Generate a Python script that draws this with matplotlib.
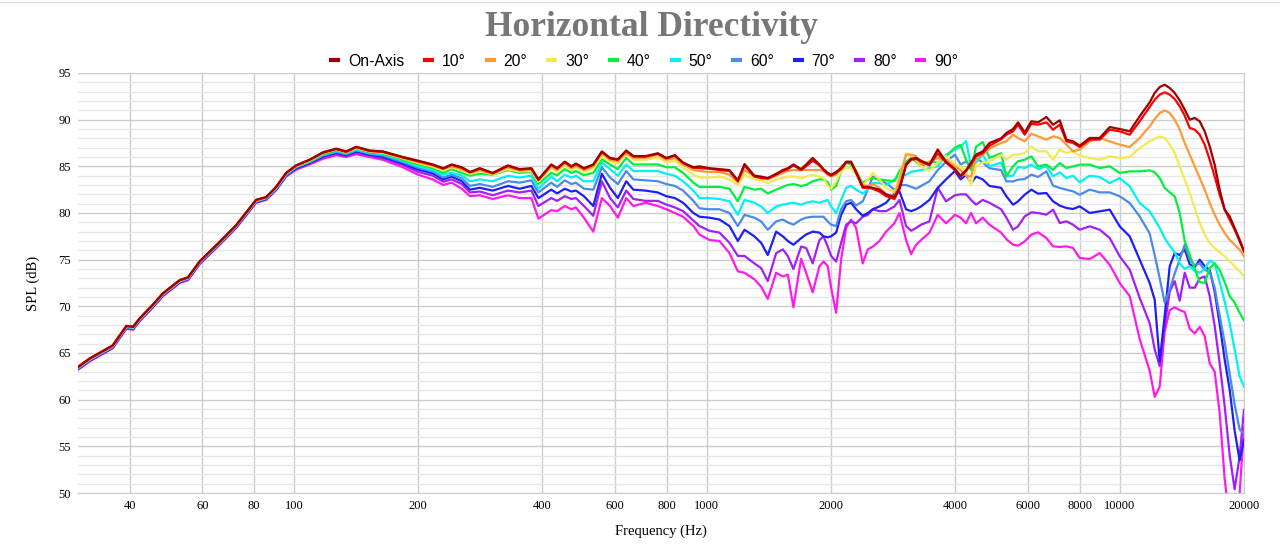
import matplotlib
matplotlib.use("Agg")
import matplotlib.pyplot as plt
from matplotlib.lines import Line2D
from matplotlib.ticker import NullLocator

# frequency points (Hz)
freq = [30, 32, 33.8, 36.4, 39.3, 40.8, 42.3, 45.6, 48.2, 52.9,
        55.4, 59.1, 66.1, 72.5, 81, 85.7, 90.6, 95.8, 101.3, 109.1,
        117.5, 126.6, 133.8, 141.6, 152.5, 164.3, 183.6,
        200, 217, 230, 241, 255, 267, 282, 303, 330, 352,
        376, 391, 420, 434, 453, 470, 482, 504, 531, 557,
        583, 609, 638, 664, 711, 761, 798, 837, 876, 928,
        960, 1015, 1073, 1135, 1189, 1234, 1304, 1354, 1405, 1472,
        1528, 1571, 1621, 1692, 1740, 1805, 1874, 1917, 1963, 2000,
        2057, 2115, 2175, 2236, 2299, 2386, 2454, 2523, 2619, 2718,
        2847, 2928, 3038, 3125, 3213, 3304, 3461, 3625, 3797, 3990,
        4118, 4246, 4365, 4488, 4659, 4836, 5161,
        5316, 5517, 5673, 5888, 6110, 6343, 6644, 6897, 7158, 7429,
        7709, 8000, 8461, 8946, 9458, 10000, 10573, 11178,
        11819, 12154, 12499, 12852, 13217, 13590, 13974, 14370, 14776, 15194,
        15623, 16065, 16518, 16982, 17462, 17957, 18460, 18981, 19518, 20000]

on_axis = [63.5, 64.4, 65.0, 65.8, 67.9, 67.8, 68.7, 70.2, 71.4, 72.8,
           73.1, 74.8, 76.9, 78.7, 81.4, 81.7, 82.8, 84.3, 85.1, 85.7,
           86.5, 86.9, 86.6, 87.1, 86.7, 86.6, 86.0,
           85.6, 85.2, 84.8, 85.2, 84.9, 84.4, 84.8, 84.3, 85.1, 84.7,
           84.8, 83.6, 85.2, 84.8, 85.5, 85.0, 85.3, 84.8, 85.2, 86.6,
           85.9, 85.75, 86.7, 86.1, 86.1, 86.4, 85.9, 86.2, 85.4, 84.9,
           85.0, 84.8, 84.7, 84.6, 83.5, 85.25, 84.0, 83.9, 83.75, 84.2,
           84.6, 84.8, 85.2, 84.7, 85.2, 85.9, 85.2, 84.7, 84.3, 84.1,
           84.4, 84.8, 85.5, 85.5, 84.4, 82.8, 82.8, 82.7, 82.5, 82.0,
           81.7, 82.7, 85.2, 85.8, 85.9, 85.6, 85.2, 86.8, 85.5, 84.7,
           84.0, 84.6, 85.4, 86.25, 86.6, 87.5, 88.0,
           88.57, 89.0, 89.71, 88.64, 89.82, 89.71, 90.29, 89.46, 89.93, 87.86,
           87.68, 87.21, 88.04, 88.04, 89.21, 89.0, 88.75, 90.36,
           91.86, 92.86, 93.5, 93.75, 93.39, 92.86, 92.07, 91.07, 90.0, 90.18,
           89.82, 88.75, 87.14, 85.18, 82.5, 80.36, 79.64, 78.39, 77.14, 75.89]

deg10 = [63.5, 64.4, 65.0, 65.8, 67.9, 67.8, 68.7, 70.2, 71.4, 72.8,
         73.1, 74.8, 76.9, 78.7, 81.4, 81.7, 82.8, 84.3, 85.1, 85.7,
         86.45, 86.85, 86.55, 87.05, 86.65, 86.55, 85.95,
         85.55, 85.15, 84.75, 85.15, 84.85, 84.35, 84.75, 84.25, 85.05, 84.65,
         84.75, 83.55, 85.15, 84.75, 85.45, 84.95, 85.25, 84.75, 85.15, 86.55,
         85.85, 85.7, 86.65, 86.05, 86.05, 86.35, 85.85, 86.15, 85.35, 84.85,
         84.8, 84.75, 84.6, 84.5, 83.4, 85.1, 83.9, 83.75, 83.7, 84.1,
         84.5, 84.7, 85.1, 84.6, 85.0, 85.6, 85.1, 84.6, 84.2, 84.0,
         84.3, 84.7, 85.4, 85.4, 84.3, 82.7, 82.7, 82.6, 82.3, 81.8,
         81.5, 82.5, 85.1, 85.7, 85.8, 85.5, 85.1, 86.4, 85.4, 84.6,
         83.9, 84.5, 85.2, 86.1, 86.4, 87.2, 87.9,
         88.39, 88.75, 89.46, 88.39, 89.57, 89.46, 89.71, 88.93, 89.46, 87.68,
         87.5, 87.07, 87.86, 87.86, 88.93, 88.75, 88.39, 89.82,
         91.36, 92.14, 92.68, 92.93, 92.68, 92.21, 91.43, 90.43, 89.11, 88.93,
         88.39, 87.32, 85.71, 83.93, 81.96, 80.36, 79.29, 78.21, 76.96, 75.89]

deg20 = [63.5, 64.4, 65.0, 65.8, 67.9, 67.8, 68.7, 70.2, 71.4, 72.8,
         73.1, 74.8, 76.9, 78.7, 81.4, 81.7, 82.8, 84.3, 85.05, 85.65,
         86.45, 86.85, 86.55, 87.05, 86.65, 86.5, 85.9,
         85.45, 85.05, 84.7, 85.0, 84.7, 84.3, 84.6, 84.2, 84.9, 84.55,
         84.65, 83.5, 85.0, 84.6, 85.3, 84.8, 85.1, 84.6, 85.0, 86.4,
         85.7, 85.55, 86.45, 85.9, 85.9, 86.25, 85.7, 85.9, 85.2, 84.6,
         84.5, 84.4, 84.4, 84.1, 83.3, 84.6, 83.9, 83.75, 83.6, 84.0,
         84.3, 84.5, 84.6, 84.6, 84.6, 84.6, 84.6, 84.5, 84.1, 83.9,
         84.1, 85.0, 85.4, 85.4, 84.5, 83.0, 82.9, 83.1, 82.7, 82.0,
         81.8, 83.6, 86.25, 86.25, 86.1, 85.2, 85.5, 85.9, 85.7, 85.0,
         84.6, 84.0, 83.9, 85.9, 86.25, 86.9, 87.5,
         87.68, 88.39, 88.04, 87.68, 88.5, 88.21, 87.86, 88.21, 88.04, 87.32,
         86.61, 86.79, 87.68, 88.04, 87.68, 87.32, 87.07, 88.04,
         89.29, 90.07, 90.71, 91.0, 90.71, 90.0, 88.93, 87.5, 86.25, 85.0,
         83.75, 82.5, 81.07, 79.82, 78.75, 77.86, 77.14, 76.61, 76.07, 75.36]

deg30 = [63.45, 64.35, 64.95, 65.75, 67.85, 67.75, 68.65, 70.15, 71.35, 72.75,
         73.05, 74.75, 76.85, 78.65, 81.35, 81.65, 82.75, 84.25, 85.05, 85.6,
         86.4, 86.8, 86.5, 86.95, 86.6, 86.45, 85.85,
         85.35, 84.95, 84.55, 84.9, 84.55, 84.2, 84.45, 84.15, 84.7, 84.45,
         84.5, 83.35, 84.85, 84.4, 85.1, 84.6, 84.9, 84.4, 84.8, 86.1,
         85.5, 85.35, 86.3, 85.7, 85.7, 85.95, 85.45, 85.6, 84.9, 84.1,
         83.8, 83.8, 83.9, 83.6, 83.0, 84.1, 83.6, 83.5, 83.2, 83.6,
         83.75, 83.9, 83.9, 83.75, 83.9, 84.1, 83.9, 83.75, 82.9, 82.6,
         83.4, 84.5, 84.8, 84.8, 84.1, 82.9, 83.6, 84.3, 83.6, 82.7,
         82.2, 83.9, 86.4, 86.1, 85.7, 85.0, 84.5, 85.4, 86.1, 85.2,
         85.0, 84.5, 83.0, 85.0, 85.4, 85.5, 86.25,
         85.71, 86.25, 86.25, 86.43, 87.14, 86.61, 86.61, 85.71, 86.79, 86.43,
         86.61, 86.14, 85.89, 85.71, 86.07, 85.89, 86.0, 86.96,
         87.68, 87.96, 88.21, 88.04, 87.32, 86.43, 85.0, 83.57, 82.14, 80.54,
         78.93, 77.68, 76.79, 76.25, 75.79, 75.36, 74.82, 74.29, 73.75, 73.21]

deg40 = [63.45, 64.35, 64.95, 65.75, 67.85, 67.75, 68.65, 70.15, 71.35, 72.75,
         73.05, 74.75, 76.85, 78.65, 81.35, 81.65, 82.7, 84.2, 85.0, 85.55,
         86.3, 86.7, 86.45, 86.9, 86.5, 86.4, 85.7,
         85.2, 84.8, 84.3, 84.7, 84.3, 84.0, 84.2, 84.1, 84.6, 84.3,
         84.4, 83.1, 84.3, 84.05, 84.7, 84.3, 84.5, 84.05, 84.3, 85.75,
         85.2, 84.7, 85.9, 85.2, 85.2, 85.2, 84.9, 84.9, 84.3, 83.25,
         82.8, 82.8, 82.8, 82.6, 81.25, 82.8, 82.5, 82.6, 82.1, 82.5,
         82.8, 83.0, 83.1, 82.9, 83.0, 83.4, 83.6, 83.6, 83.3, 82.5,
         82.9, 84.5, 85.4, 85.2, 84.5, 83.2, 83.6, 83.75, 83.6, 83.5,
         83.4, 84.5, 85.5, 85.9, 85.5, 85.0, 85.5, 85.4, 86.1, 87.0,
         87.3, 85.7, 84.6, 87.1, 87.6, 85.9, 86.4,
         83.93, 85.0, 85.54, 85.71, 86.07, 85.0, 85.18, 84.64, 85.36, 84.82,
         85.0, 85.18, 85.18, 84.82, 85.0, 84.29, 84.46, 84.46,
         84.57, 84.36, 83.75, 82.68, 82.21, 81.79, 80.0, 77.0, 75.5, 74.0,
         72.6, 72.5, 74.1, 74.6, 73.9, 72.6, 71.1, 70.4, 69.3, 68.5]

deg50 = [63.4, 64.3, 64.9, 65.7, 67.8, 67.7, 68.6, 70.1, 71.3, 72.7,
         73.0, 74.7, 76.8, 78.6, 81.3, 81.6, 82.65, 84.15, 84.95, 85.5,
         86.25, 86.65, 86.4, 86.8, 86.45, 86.3, 85.6,
         85.0, 84.6, 84.1, 84.3, 84.0, 83.4, 83.6, 83.4, 84.0, 83.8,
         84.0, 82.6, 83.9, 83.4, 84.1, 83.8, 84.0, 83.4, 83.4, 85.4,
         84.7, 84.0, 85.2, 84.5, 84.5, 84.5, 84.2, 84.0, 83.4, 82.4,
         81.6, 81.6, 81.5, 81.25, 79.8, 81.4, 81.1, 80.7, 80.0, 80.7,
         80.9, 81.0, 81.1, 80.9, 81.1, 81.25, 81.1, 81.25, 81.4, 80.7,
         80.0, 81.4, 82.7, 82.9, 82.5, 82.1, 82.5, 83.2, 83.2, 83.0,
         83.6, 83.9, 84.1, 84.4, 84.5, 84.6, 84.8, 85.0, 86.25, 86.8,
         87.1, 87.7, 85.0, 85.4, 86.25, 85.0, 85.4,
         83.93, 84.0, 84.93, 84.82, 85.18, 84.71, 85.0, 83.93, 84.36, 83.75,
         84.0, 83.29, 84.0, 83.86, 83.21, 83.75, 82.86, 81.07,
         80.18, 79.3, 78.4, 77.3, 76.5, 75.8, 74.6, 74.0, 74.3, 73.8,
         73.6, 74.0, 74.9, 74.6, 72.6, 70.5, 68.2, 65.4, 62.5, 61.4]

deg60 = [63.35, 64.25, 64.85, 65.65, 67.75, 67.65, 68.55, 70.05, 71.25, 72.65,
         72.95, 74.65, 76.75, 78.55, 81.25, 81.55, 82.6, 84.1, 84.9, 85.45,
         86.15, 86.55, 86.3, 86.7, 86.35, 86.15, 85.45,
         84.85, 84.45, 83.8, 84.1, 83.7, 82.9, 83.1, 82.8, 83.4, 83.25,
         83.5, 82.2, 83.25, 82.8, 83.5, 83.1, 83.25, 82.6, 82.5, 84.9,
         83.8, 83.1, 84.5, 83.6, 83.5, 83.4, 83.1, 82.9, 82.4, 81.3,
         80.5, 80.4, 80.4, 80.0, 78.6, 79.8, 79.5, 79.1, 78.2, 79.1,
         79.3, 79.0, 78.75, 79.3, 79.5, 79.6, 79.6, 79.6, 79.1, 78.75,
         78.6, 80.4, 81.25, 81.4, 80.8, 81.25, 82.5, 83.9, 83.5, 83.2,
         82.5, 83.0, 83.0, 82.8, 82.6, 82.9, 83.4, 84.6, 85.5, 86.25,
         85.2, 85.5, 85.0, 85.9, 85.4, 84.8, 84.6,
         83.39, 83.39, 83.57, 83.64, 84.11, 83.86, 84.46, 82.93, 82.68, 82.5,
         82.32, 81.96, 82.5, 82.21, 82.21, 81.79, 81.07, 79.64,
         77.8, 75.5, 73.0, 70.4, 71.8, 73.5, 75.0, 76.6, 75.0, 74.4,
         74.6, 73.9, 73.7, 72.0, 69.0, 66.1, 62.8, 59.5, 56.8, 56.4]

deg70 = [63.3, 64.2, 64.8, 65.6, 67.7, 67.6, 68.5, 70.0, 71.2, 72.6,
         72.9, 74.6, 76.7, 78.5, 81.2, 81.5, 82.55, 84.05, 84.8, 85.35,
         86.05, 86.45, 86.2, 86.6, 86.25, 86.0, 85.3,
         84.65, 84.25, 83.6, 83.9, 83.4, 82.5, 82.7, 82.4, 82.9, 82.6,
         82.9, 81.6, 82.5, 82.1, 82.6, 82.3, 82.4, 81.8, 80.75, 84.2,
         82.7, 81.6, 83.4, 82.5, 82.4, 82.2, 81.8, 81.6, 81.1, 80.0,
         79.6, 79.5, 79.3, 78.6, 77.0, 78.2, 77.5, 76.8, 75.5, 78.0,
         77.5, 77.0, 76.6, 77.3, 77.7, 78.0, 77.9, 77.5, 77.4, 77.5,
         77.9, 79.8, 80.9, 81.1, 80.4, 79.7, 80.0, 80.4, 80.7, 81.1,
         82.1, 82.3, 80.4, 80.2, 80.4, 80.7, 81.4, 82.7, 83.6, 84.5,
         83.6, 84.1, 83.2, 83.9, 83.6, 82.9, 82.7,
         81.79, 80.89, 81.25, 81.96, 82.5, 82.07, 82.14, 81.25, 80.79, 80.54,
         80.43, 80.71, 80.0, 80.18, 80.36, 78.57, 77.5, 75.0,
         72.5, 70.7, 64.1, 69.0, 74.3, 75.7, 75.5, 76.1, 74.5, 74.2,
         75.0, 74.3, 73.9, 71.6, 68.1, 64.3, 61.1, 56.7, 53.5, 55.7]

deg80 = [63.25, 64.15, 64.75, 65.55, 67.65, 67.55, 68.45, 69.95, 71.15, 72.55,
         72.85, 74.55, 76.65, 78.45, 81.15, 81.45, 82.5, 84.0, 84.75, 85.3,
         85.95, 86.35, 86.1, 86.45, 86.15, 85.9, 85.15,
         84.4, 84.0, 83.35, 83.6, 83.1, 82.2, 82.3, 81.9, 82.4, 82.2,
         82.4, 80.75, 81.6, 81.3, 81.8, 81.5, 81.6, 80.75, 79.7, 83.4,
         81.6, 80.6, 82.4, 81.5, 81.3, 81.3, 80.9, 80.6, 80.2, 79.2,
         78.6, 78.1, 77.9, 76.8, 75.4, 75.4, 74.6, 74.1, 72.7, 75.7,
         76.1, 75.4, 74.0, 76.4, 76.25, 74.6, 77.1, 77.5, 76.4, 75.4,
         74.8, 76.8, 78.75, 79.1, 78.9, 79.6, 79.8, 80.4, 80.2, 80.2,
         80.7, 81.4, 78.6, 78.1, 78.4, 78.75, 79.1, 82.7, 81.25, 81.9,
         82.0, 82.0, 81.4, 80.9, 81.4, 81.1, 80.4,
         79.5, 78.21, 78.57, 79.64, 80.07, 80.0, 79.82, 80.36, 78.93, 79.11,
         78.75, 78.21, 78.57, 78.21, 77.32, 75.36, 73.93, 70.9,
         68.2, 65.4, 63.6, 68.0, 71.6, 72.7, 70.6, 73.6, 72.0, 72.0,
         73.0, 73.2, 71.1, 67.9, 63.9, 59.3, 54.1, 50.4, 53.9, 58.9]

deg90 = [63.2, 64.1, 64.7, 65.5, 67.6, 67.5, 68.4, 69.9, 71.1, 72.5,
         72.8, 74.5, 76.6, 78.4, 81.1, 81.4, 82.45, 83.9, 84.65, 85.2,
         85.8, 86.2, 86.0, 86.3, 86.0, 85.7, 84.9,
         84.1, 83.6, 83.0, 83.25, 82.6, 81.8, 81.9, 81.5, 81.9, 81.6,
         81.6, 79.4, 80.3, 80.2, 80.75, 80.4, 80.6, 79.5, 78.0, 81.6,
         80.75, 79.5, 81.6, 80.75, 81.1, 80.75, 80.4, 80.0, 79.6, 78.6,
         77.7, 77.1, 77.0, 75.7, 73.75, 73.6, 72.9, 72.1, 70.8, 73.6,
         73.2, 73.4, 69.9, 75.1, 73.6, 71.5, 74.3, 74.8, 74.3, 72.0,
         69.3, 75.0, 78.4, 79.3, 78.4, 74.6, 76.1, 76.4, 77.0, 78.0,
         78.9, 80.0, 77.1, 75.6, 76.6, 77.1, 77.9, 79.8, 78.9, 79.8,
         79.5, 78.9, 80.0, 78.9, 79.5, 78.75, 77.9,
         77.2, 76.61, 76.5, 76.96, 77.68, 77.93, 77.32, 76.43, 76.36, 76.43,
         76.25, 75.18, 75.07, 75.71, 74.46, 72.5, 71.1, 66.5,
         63.1, 60.3, 61.4, 67.3, 69.6, 69.9, 69.6, 69.4, 67.6, 67.1,
         67.8, 66.8, 63.9, 63.0, 58.6, 51.5, 47.0, 46.0, 50.0, 57.0]

labels = ["On-Axis", "10°", "20°", "30°", "40°", "50°", "60°", "70°", "80°", "90°"]
colors = ["#a00000", "#ff0000", "#ff9933", "#f2ea4f", "#00f040",
          "#00f2f2", "#4a8ae8", "#1f1ff5", "#a31ff5", "#ff1aeb"]
series = [on_axis, deg10, deg20, deg30, deg40, deg50, deg60, deg70, deg80, deg90]

xticks = [40, 60, 80, 100, 200, 400, 600, 800, 1000, 2000, 4000, 6000, 8000, 10000, 20000]

plt.rcParams['font.family'] = ['Liberation Serif', 'DejaVu Serif']

fig = plt.figure(figsize=(12.8, 5.5), dpi=100)
ax = fig.add_axes([78 / 1280, 57 / 550, 1166 / 1280, 420 / 550])

# draw 90° first so on-axis ends up on top
for vals, col in reversed(list(zip(series, colors))):
    ax.plot(freq, vals, color=col, lw=1.6, solid_joinstyle='round')

ax.set_xscale('log')
ax.set_xlim(30, 20000)
ax.set_ylim(50, 95)
ax.set_xticks(xticks)
ax.set_xticklabels([str(t) for t in xticks])
ax.xaxis.set_minor_locator(NullLocator())
ax.set_yticks(range(50, 96, 5))
ax.set_yticks(range(50, 96), minor=True)
ax.grid(True, which='major', color='#cccccc', lw=1)
ax.grid(True, which='minor', axis='y', color='#e6e6e6', lw=1)
ax.set_axisbelow(True)
ax.tick_params(which='both', length=0, labelsize=9, pad=5)
ax.spines['left'].set_visible(False)
for s in ['top', 'bottom', 'right']:
    ax.spines[s].set_color('#cccccc')

ax.set_xlabel('Frequency (Hz)', fontsize=10.5, labelpad=9)
ax.set_ylabel('SPL (dB)', fontsize=10.5, labelpad=13)

fig.text(0.509, 1 - 36 / 550, 'Horizontal Directivity', ha='center', va='baseline',
         fontsize=25.5, fontweight='bold', color='#777777')

handles = [Line2D([], [], color=c, lw=3, solid_capstyle='butt') for c in colors]
fig.legend(handles, labels, loc='center', bbox_to_anchor=(0.503, 1 - 61 / 550), ncol=10,
           frameon=False, prop={'family': 'Liberation Sans', 'size': 11.3},
           handlelength=0.7, handletextpad=0.5, columnspacing=1.2)

fig.add_artist(Line2D([0, 1], [1 - 2 / 550, 1 - 2 / 550], color='#dddddd', lw=1))

fig.savefig('out.png', dpi=100)
